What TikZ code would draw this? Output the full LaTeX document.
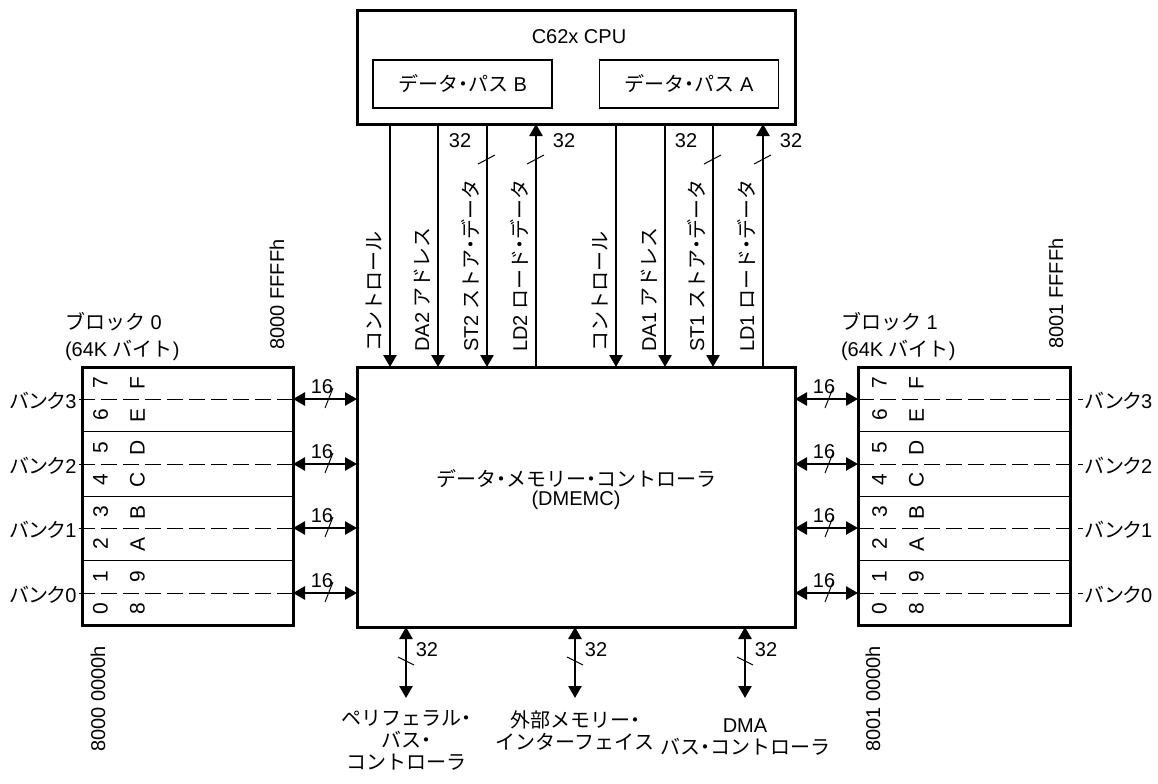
\documentclass[tikz,border=0pt]{standalone}
\usepackage{fontspec}
\setmainfont{Liberation Sans}
\newfontfamily\jp{Noto Sans CJK JP}
\newfontfamily\jpp[RawFeature=+palt]{Noto Sans CJK JP}
\newcommand{\dt}{{\jpp ・}}
\usepackage{tikz}
\usetikzlibrary{arrows.meta, positioning}

\begin{document}
\begin{tikzpicture}[
    x=0.5pt, y=-0.5pt,
    font=\fontsize{10}{11}\selectfont,
    unit/.style={rectangle, draw, line width=1.5pt, inner sep=0pt, outer sep=0pt},
    dpbox/.style={rectangle, draw, line width=0.6pt, inner sep=0pt, outer sep=0pt,
                  minimum width=89.5pt, minimum height=24pt},
    vlab/.style={rotate=90, anchor=base west, inner sep=0pt},
    cell/.style={rotate=90, align=center, inner sep=0pt,
                 font=\fontsize{10.5}{18.5}\selectfont},
    jplab/.style={anchor=north, align=center, inner sep=0pt,
                  font=\jp\fontsize{10}{11}\selectfont},
    bus/.style={-{Triangle[length=6pt, width=6.5pt]}, line width=1.3pt},
    bidir/.style={{Triangle[length=6pt, width=6.5pt]}-{Triangle[length=6pt, width=6.5pt]},
                  line width=1.3pt},
    tick/.style={line width=0.5pt},
    sep/.style={line width=0.5pt},
    dline/.style={line width=0.5pt, dash pattern=on 8pt off 3pt},
    wlab/.style={inner sep=0pt}
]
\fill[white] (0,0) rectangle (1158,783);
\useasboundingbox (0,0) rectangle (1158,783);

% CPU
\node[unit, minimum width=219pt, minimum height=57pt] (cpu) at (576,67) {};
\node (cpuname) at (579,37) {C62x CPU};
\node[dpbox] (dpb) at (462.5,84) {{\jp データ\dt パス} B};
\node[dpbox] (dpa) at (689,84) {{\jp データ\dt パス} A};

% controller
\node[unit, minimum width=219pt, minimum height=130pt] (dmemc) at (576,497) {};
\node[align=center, font=\fontsize{10}{9.5}\selectfont] (dmemclab) at (576,490)
    {{\jp データ\dt メモリー\dt コントローラ}\\(DMEMC)};

% memory blocks
\node[unit, minimum width=105.5pt, minimum height=129pt] (blk0) at (187.5,496) {};
\node[unit, minimum width=106pt, minimum height=129pt] (blk1) at (964,496) {};

\node[anchor=west, align=left, font=\fontsize{10}{13.5}\selectfont] (blk0name) at (58,336)
    {{\jp ブロック} 0\\(64K {\jp バイト})};
\node[anchor=west, align=left, font=\fontsize{10}{13.5}\selectfont] (blk1name) at (834,336)
    {{\jp ブロック} 1\\(64K {\jp バイト})};

\node[vlab] (a0top) at (284,350) {8000 FFFFh};
\node[vlab] (a1top) at (1063,349) {8001 FFFFh};
\node[vlab] (a0bot) at (105,752) {8000 0000h};
\node[vlab] (a1bot) at (880,752) {8001 0000h};

% bank levels
\coordinate (lv3) at (0,399);
\coordinate (lv2) at (0,464);
\coordinate (lv1) at (0,528);
\coordinate (lv0) at (0,593);
\coordinate (sp3) at (0,431.5);
\coordinate (sp2) at (0,496);
\coordinate (sp1) at (0,560.5);

\draw[sep] (blk0.west |- sp3) -- (blk0.east |- sp3);
\draw[sep] (blk0.west |- sp2) -- (blk0.east |- sp2);
\draw[sep] (blk0.west |- sp1) -- (blk0.east |- sp1);
\draw[sep] (blk1.west |- sp3) -- (blk1.east |- sp3);
\draw[sep] (blk1.west |- sp2) -- (blk1.east |- sp2);
\draw[sep] (blk1.west |- sp1) -- (blk1.east |- sp1);

\node[anchor=east, inner sep=1pt] (bk3l) at (79,401) {{\jpp バンク}3};
\node[anchor=east, inner sep=1pt] (bk2l) at (79,466) {{\jpp バンク}2};
\node[anchor=east, inner sep=1pt] (bk1l) at (79,530) {{\jpp バンク}1};
\node[anchor=east, inner sep=1pt] (bk0l) at (79,595) {{\jpp バンク}0};
\node[anchor=west, inner sep=1pt] (bk3r) at (1083,401) {{\jpp バンク}3};
\node[anchor=west, inner sep=1pt] (bk2r) at (1083,466) {{\jpp バンク}2};
\node[anchor=west, inner sep=1pt] (bk1r) at (1083,530) {{\jpp バンク}1};
\node[anchor=west, inner sep=1pt] (bk0r) at (1083,595) {{\jpp バンク}0};

\draw[dline] (bk3l.east |- lv3) -- (blk0.east |- lv3);
\draw[dline] (bk2l.east |- lv2) -- (blk0.east |- lv2);
\draw[dline] (bk1l.east |- lv1) -- (blk0.east |- lv1);
\draw[dline] (bk0l.east |- lv0) -- (blk0.east |- lv0);
\draw[dline] (blk1.west |- lv3) -- (bk3r.west |- lv3);
\draw[dline] (blk1.west |- lv2) -- (bk2r.west |- lv2);
\draw[dline] (blk1.west |- lv1) -- (bk1r.west |- lv1);
\draw[dline] (blk1.west |- lv0) -- (bk0r.west |- lv0);

% cells
\node[cell] (b0r7) at (119,383) {7\\F};
\node[cell] (b0r6) at (119,415) {6\\E};
\node[cell] (b0r5) at (119,448) {5\\D};
\node[cell] (b0r4) at (119,480) {4\\C};
\node[cell] (b0r3) at (119,512) {3\\B};
\node[cell] (b0r2) at (119,544) {2\\A};
\node[cell] (b0r1) at (119,577) {1\\9};
\node[cell] (b0r0) at (119,609) {0\\8};
\node[cell] (b1r7) at (898,383) {7\\F};
\node[cell] (b1r6) at (898,415) {6\\E};
\node[cell] (b1r5) at (898,448) {5\\D};
\node[cell] (b1r4) at (898,480) {4\\C};
\node[cell] (b1r3) at (898,512) {3\\B};
\node[cell] (b1r2) at (898,544) {2\\A};
\node[cell] (b1r1) at (898,577) {1\\9};
\node[cell] (b1r0) at (898,609) {0\\8};

% bank buses
\draw[bidir] (blk0.east |- lv3) -- (dmemc.west |- lv3);
\draw[bidir] (blk0.east |- lv2) -- (dmemc.west |- lv2);
\draw[bidir] (blk0.east |- lv1) -- (dmemc.west |- lv1);
\draw[bidir] (blk0.east |- lv0) -- (dmemc.west |- lv0);
\draw[bidir] (dmemc.east |- lv3) -- (blk1.west |- lv3);
\draw[bidir] (dmemc.east |- lv2) -- (blk1.west |- lv2);
\draw[bidir] (dmemc.east |- lv1) -- (blk1.west |- lv1);
\draw[bidir] (dmemc.east |- lv0) -- (blk1.west |- lv0);

\node[wlab] (w3l) at (322,387) {16};
\node[wlab] (w2l) at (322,452) {16};
\node[wlab] (w1l) at (322,516) {16};
\node[wlab] (w0l) at (322,581) {16};
\node[wlab] (w3r) at (824,387) {16};
\node[wlab] (w2r) at (824,452) {16};
\node[wlab] (w1r) at (824,516) {16};
\node[wlab] (w0r) at (824,581) {16};
\draw[tick] (325,408) -- (333,388);
\draw[tick] (325,473) -- (333,453);
\draw[tick] (325,537) -- (333,517);
\draw[tick] (325,602) -- (333,582);
\draw[tick] (825,408) -- (833,388);
\draw[tick] (825,473) -- (833,453);
\draw[tick] (825,537) -- (833,517);
\draw[tick] (825,602) -- (833,582);

% CPU buses
\draw[bus] (cpu.south -| 390,0) -- (dmemc.north -| 390,0);
\draw[bus] (cpu.south -| 438,0) -- (dmemc.north -| 438,0);
\draw[bus] (cpu.south -| 487,0) -- (dmemc.north -| 487,0);
\draw[bus] (dmemc.north -| 536,0) -- (cpu.south -| 536,0);
\draw[bus] (cpu.south -| 616,0) -- (dmemc.north -| 616,0);
\draw[bus] (cpu.south -| 665,0) -- (dmemc.north -| 665,0);
\draw[bus] (cpu.south -| 713,0) -- (dmemc.north -| 713,0);
\draw[bus] (dmemc.north -| 763,0) -- (cpu.south -| 763,0);

\node[vlab] (ctlb) at (381,352) {\jp コントロール};
\node[vlab] (da2) at (429,352) {DA2 {\jp アドレス}};
\node[vlab] (st2) at (478,352) {ST2 {\jp ストア\dt データ}};
\node[vlab] (ld2) at (527,352) {LD2 {\jp ロード\dt データ}};
\node[vlab] (ctla) at (607,352) {\jp コントロール};
\node[vlab] (da1) at (656,352) {DA1 {\jp アドレス}};
\node[vlab] (st1) at (704,352) {ST1 {\jp ストア\dt データ}};
\node[vlab] (ld1) at (754,352) {LD1 {\jp ロード\dt データ}};

\node[wlab] (wst2) at (460,141) {32};
\node[wlab] (wld2) at (564,141) {32};
\node[wlab] (wst1) at (686,141) {32};
\node[wlab] (wld1) at (791,141) {32};
\draw[tick] (478,164) -- (495,155);
\draw[tick] (527,164) -- (544,155);
\draw[tick] (704,164) -- (721,155);
\draw[tick] (754,164) -- (771,155);

% lower buses
\coordinate (pbc) at (406,698);
\coordinate (emif) at (575,698);
\coordinate (dma) at (745,698);
\draw[bidir] (dmemc.south -| pbc) -- (pbc);
\draw[bidir] (dmemc.south -| emif) -- (emif);
\draw[bidir] (dmemc.south -| dma) -- (dma);

\node[wlab] (wpbc) at (427,650) {32};
\node[wlab] (wemif) at (596,650) {32};
\node[wlab] (wdma) at (766,650) {32};
\draw[tick] (398,657) -- (414,665);
\draw[tick] (567,657) -- (583,665);
\draw[tick] (737,657) -- (753,665);

\node[jplab] (pbclab) at (406,710) {ペリフェラル\dt\\バス\dt\\コントローラ};
\node[jplab] (emiflab) at (575,710) {外部メモリー\dt\\インターフェイス};
\node[jplab] (dmalab) at (745,718) {{\rmfamily DMA}\\バス\dt コントローラ};

\end{tikzpicture}
\end{document}
